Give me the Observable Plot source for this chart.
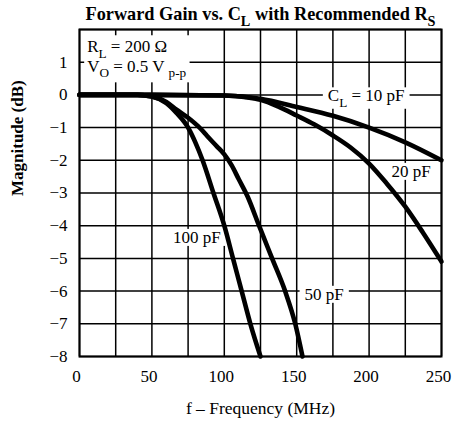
<!DOCTYPE html>
<html>
<head>
<meta charset="utf-8">
<script src="https://cdn.jsdelivr.net/npm/d3@7"></script>
<script src="https://cdn.jsdelivr.net/npm/@observablehq/plot@0.6"></script>
<style>
  html, body { margin: 0; padding: 0; background: #fff; }
  #chart svg { display: block; }
</style>
</head>
<body>
<div id="chart"></div>
<script>
// ---- data ----
const titleText = "Forward Gain vs. C_{L} with Recommended R_{S}";
const xLabelText = "f \u2013 Frequency (MHz)";
const yLabelText = "Magnitude (dB)";

const xTicks = [0, 50, 100, 150, 200, 250];
const xGrid = [0, 25, 50, 75, 100, 125, 150, 175, 200, 225, 250];
const yTicks = [-8, -7, -6, -5, -4, -3, -2, -1, 0, 1];
const yGrid = [-8, -7, -6, -5, -4, -3, -2, -1, 0, 1, 2];

// C_L = 10 pF
const f10  = [0, 50, 100, 125, 150, 175, 200, 225, 250];
const db10 = [0, 0, -0.02, -0.12, -0.37, -0.64, -1.0, -1.45, -2.0];
// 20 pF
const f20  = [0, 50, 100, 115, 125, 137, 150, 162, 175, 187, 200, 212, 225, 237, 250];
const db20 = [0, 0, -0.02, -0.07, -0.15, -0.35, -0.63, -0.9, -1.24, -1.6, -2.1, -2.7, -3.42, -4.2, -5.1];
// 50 pF
const f50  = [0, 40, 50, 60, 67, 75, 84, 88, 95, 100, 105, 110, 116, 124, 133, 142, 149, 154];
const db50 = [0, 0, -0.05, -0.22, -0.45, -0.7, -1.05, -1.25, -1.58, -1.82, -2.15, -2.58, -3.1, -4.0, -5.0, -6.0, -7.0, -8.0];
// 100 pF
const f100  = [0, 40, 50, 60, 67, 75, 80, 85, 92.5, 100, 106, 112, 118, 125];
const db100 = [0, 0, -0.05, -0.25, -0.55, -1.0, -1.45, -2.0, -3.0, -4.0, -5.0, -6.0, -7.0, -8.0];

const seriesNames = ["10 pF", "20 pF", "50 pF", "100 pF"];
const seriesF = [f10, f20, f50, f100];
const seriesDb = [db10, db20, db50, db100];

// curve labels (text and anchor in data units)
const labelText = ["C_{L} = 10 pF", "20 pF", "50 pF", "100 pF"];
const labelF = [198, 229, 169, 81];
const labelDb = [-0.03, -2.34, -6.1, -4.36];

// corner note
const noteText = ["R_{L} = 200 \u03A9", "V_{O} = 0.5 V _{p-p}"];
const noteF = [5.3, 5.3];
const noteDb = [1.47, 0.87];

// ---- build tables ----
const rows = seriesNames.flatMap((name, i) =>
  seriesF[i].map((f, j) => ({series: name, f, db: seriesDb[i][j]})));
const labels = labelText.map((t, i) => ({t, f: labelF[i], db: labelDb[i]}));
const notes = noteText.map((t, i) => ({t, f: noteF[i], db: noteDb[i]}));

const FONT = "Liberation Serif, Times New Roman, serif";

const plot = Plot.plot({
  width: 452,
  height: 421,
  marginTop: 29,
  marginRight: 11,
  marginBottom: 65,
  marginLeft: 79,
  style: {fontFamily: FONT, background: "#fff", color: "#000"},
  x: {domain: [0, 250], label: null},
  y: {domain: [-8, 2], label: null},
  marks: [
    Plot.gridX({ticks: xGrid, stroke: "#000", strokeOpacity: 1, strokeWidth: 1.5}),
    Plot.gridY({ticks: yGrid, stroke: "#000", strokeOpacity: 1, strokeWidth: 1.5}),
    Plot.text(notes, {x: "f", y: "db", text: "t", textAnchor: "start", fontSize: 17}),
    Plot.text(labels, {x: "f", y: "db", text: "t", fontSize: 17}),
    Plot.line(rows, {x: "f", y: "db", z: "series", stroke: "#000", strokeWidth: 4.6, curve: "monotone-x"}),
    Plot.frame({stroke: "#000", strokeWidth: 2}),
    Plot.axisX({ticks: xTicks, tickSize: 0, tickPadding: 13, dx: -3, fontSize: 17, label: null}),
    Plot.axisY({ticks: yTicks, tickSize: 0, tickPadding: 12, fontSize: 17, label: null, tickFormat: d => d < 0 ? "\u2212" + Math.abs(d) : String(d)}),
    Plot.text([titleText], {frameAnchor: "top", lineAnchor: "middle", dy: -15, fontSize: 18.3, fontWeight: "bold"}),
    Plot.text([xLabelText], {frameAnchor: "bottom", lineAnchor: "middle", dy: 52, fontSize: 17.5}),
    Plot.text([yLabelText], {frameAnchor: "left", lineAnchor: "middle", dx: -62, dy: 3, rotate: -90, fontSize: 17, fontWeight: "bold"})
  ]
});

document.getElementById("chart").appendChild(plot);

// ---- subscripts: turn "_{..}" into lowered, smaller tspans ----
const NS = "http://www.w3.org/2000/svg";
const plain = s => s.replace(/_\{([^}]*)\}/g, "$1");
plot.querySelectorAll("text").forEach(t => {
  const s = t.textContent;
  if (!s.includes("_{")) return;
  const base = parseFloat(getComputedStyle(t).fontSize) || 17;
  const shift = base * 0.32;
  const parts = s.split(/_\{([^}]*)\}/);
  while (t.firstChild) t.removeChild(t.firstChild);
  let offset = 0;
  parts.forEach((p, i) => {
    if (!p) return;
    const ts = document.createElementNS(NS, "tspan");
    ts.textContent = p;
    const want = i % 2 === 1 ? shift : 0;
    if (want !== offset) { ts.setAttribute("dy", want - offset); offset = want; }
    if (i % 2 === 1) ts.setAttribute("font-size", base * 0.78);
    t.appendChild(ts);
  });
});

// ---- white boxes behind labels (they interrupt the grid as in the reference) ----
function boxFor(texts, padX, padY) {
  if (!texts.length) return;
  const g = texts[0].parentNode;
  const gInv = g.getCTM().inverse();
  let x0 = Infinity, y0 = Infinity, x1 = -Infinity, y1 = -Infinity;
  texts.forEach(t => {
    const b = t.getBBox();
    const pm = gInv.multiply(t.getCTM());
    [[b.x, b.y], [b.x + b.width, b.y + b.height]].forEach(([x, y]) => {
      const p = plot.createSVGPoint(); p.x = x; p.y = y;
      const q = p.matrixTransform(pm);
      x0 = Math.min(x0, q.x); x1 = Math.max(x1, q.x);
      y0 = Math.min(y0, q.y); y1 = Math.max(y1, q.y);
    });
  });
  const r = document.createElementNS(NS, "rect");
  r.setAttribute("x", x0 - padX); r.setAttribute("y", y0 - padY);
  r.setAttribute("width", x1 - x0 + 2 * padX); r.setAttribute("height", y1 - y0 + 2 * padY);
  r.setAttribute("fill", "#fff"); r.setAttribute("stroke", "none");
  g.insertBefore(r, g.firstChild);
}
const allTexts = [...plot.querySelectorAll("text")];
const noteSet = new Set(noteText.map(plain));
const labelSet = new Set(labelText.map(plain));
boxFor(allTexts.filter(t => noteSet.has(t.textContent)), 3, 2);
allTexts.filter(t => labelSet.has(t.textContent)).forEach(t => boxFor([t], 5, -1));
</script>
</body>
</html>
